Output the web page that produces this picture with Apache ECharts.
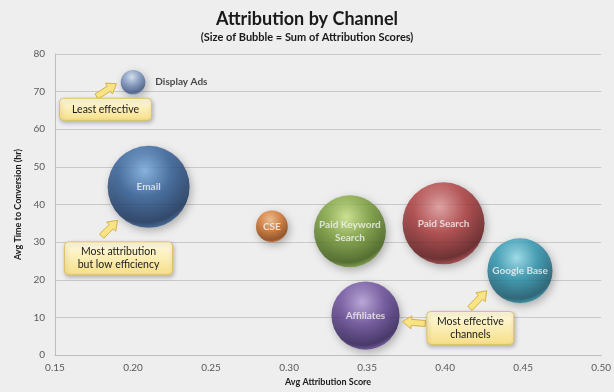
<!DOCTYPE html>
<html>
<head>
<meta charset="utf-8">
<script src="https://cdn.jsdelivr.net/npm/echarts@6/dist/echarts.min.js"></script>
<style>
  html, body { margin: 0; padding: 0; background: #eeeeee; }
  #chart { width: 614px; height: 392px; }
</style>
</head>
<body>
<div id="chart"></div>
<script>
// Channel metrics
const channels = ['Display Ads', 'Email', 'CSE', 'Paid Keyword Search', 'Paid Search', 'Google Base', 'Affiliates'];
const avgAttributionScore = [0.20, 0.21, 0.289, 0.339, 0.399, 0.448, 0.349];
const avgHoursToConversion = [72.5, 44.7, 34.2, 32.9, 35.0, 22.4, 10.5];
const attributionScoreSum = [9, 100, 15, 77, 100, 63, 69];

// Axis ticks
const xTicks = { min: 0.15, max: 0.50, interval: 0.05 };
const yTicks = { min: 0, max: 80, interval: 10 };

// Sphere shading per channel: [highlight, base, shadow]
const sphereColors = [
  ['#dbe6f7', '#7e98c4', '#3e5684'],
  ['#7fb3ea', '#31609a', '#14305a'],
  ['#f7c089', '#d7762c', '#8a400c'],
  ['#d3ee8a', '#7ca23a', '#3f5f14'],
  ['#eaa0a0', '#b03b3d', '#5e1416'],
  ['#9be6f5', '#2b97b2', '#11566a'],
  ['#bda6e0', '#6b4c9d', '#2f1c58']
];

const chart = echarts.init(document.getElementById('chart'));

function sphere(c) {
  return {
    type: 'radial', x: 0.45, y: 0.3, r: 0.72,
    colorStops: [
      { offset: 0, color: c[0] },
      { offset: 0.45, color: c[1] },
      { offset: 0.88, color: c[2] },
      { offset: 1, color: c[1] }
    ]
  };
}

const bubbleData = channels.map((name, i) => ({
  name: name,
  value: [avgAttributionScore[i], avgHoursToConversion[i], attributionScoreSum[i]],
  itemStyle: {
    color: sphere(sphereColors[i]),
    shadowBlur: 8,
    shadowColor: 'rgba(0,0,0,0.35)',
    shadowOffsetX: 2,
    shadowOffsetY: 3
  },
  label: name === 'Display Ads'
    ? { position: 'right', distance: 10, color: '#1a1a1a', fontSize: 10, fontWeight: 'bold' }
    : {}
}));

chart.setOption({
  backgroundColor: '#eeeeee',
  textStyle: { fontFamily: 'Lato, "Open Sans", sans-serif' },
  title: [
    { text: 'Attribution by Channel', left: 'center', top: 5,
      textStyle: { fontSize: 18, fontWeight: 'bold', color: '#1a1a1a', fontFamily: 'Lato, sans-serif' } },
    { text: '(Size of Bubble = Sum of Attribution Scores)', left: 'center', top: 27,
      textStyle: { fontSize: 11, fontWeight: 'bold', color: '#1a1a1a', fontFamily: 'Lato, sans-serif' } }
  ],
  grid: { left: 55, right: 9, top: 54, bottom: 34 },
  xAxis: {
    type: 'value', min: xTicks.min, max: xTicks.max, interval: xTicks.interval,
    name: 'Avg Attribution Score', nameLocation: 'middle', nameGap: 20,
    nameTextStyle: { fontSize: 9, fontWeight: 'bold', color: '#1a1a1a' },
    axisLine: { show: true, lineStyle: { color: '#bdbdbd' } },
    axisTick: { show: false },
    splitLine: { show: false },
    axisLabel: { fontSize: 10, color: '#595959', margin: 8, formatter: v => v.toFixed(2) }
  },
  yAxis: {
    type: 'value', min: yTicks.min, max: yTicks.max, interval: yTicks.interval,
    name: 'Avg Time to Conversion (hr)', nameLocation: 'middle', nameGap: 30,
    nameTextStyle: { fontSize: 9, fontWeight: 'bold', color: '#1a1a1a' },
    axisLine: { show: true, lineStyle: { color: '#bdbdbd' } },
    axisTick: { show: false },
    splitLine: { lineStyle: { color: '#c9c9c9' } },
    axisLabel: { fontSize: 10, color: '#595959', margin: 10 }
  },
  series: [{
    type: 'scatter',
    data: bubbleData,
    symbolSize: v => 82 * Math.sqrt(v[2] / 100),
    label: {
      show: true, position: 'inside',
      color: '#f2f2f2', fontSize: 10, fontWeight: 'bold', lineHeight: 13,
      formatter: p => p.name.replace('Keyword ', 'Keyword\n')
    },
    emphasis: { disabled: true }
  }]
});

// Callout notes, anchored in data space
const callouts = [
  { lines: ['Least effective'], center: [0.1824, 65.3], w: 92, h: 22,
    arrows: [[[0.1767, 68.7], [0.1894, 72.1]]] },
  { lines: ['Most attribution', 'but low efficiency'], center: [0.1907, 25.7], w: 108, h: 33,
    arrows: [[[0.1799, 31.6], [0.1901, 35.8]]] },
  { lines: ['Most effective', 'channels'], center: [0.4162, 7.2], w: 87, h: 33,
    arrows: [[[0.3873, 8.4], [0.3727, 8.9]], [[0.4159, 12.4], [0.4267, 17.1]]] }
];

function blockArrow(tail, head) {
  const dx = head[0] - tail[0], dy = head[1] - tail[1];
  const len = Math.sqrt(dx * dx + dy * dy);
  const ux = dx / len, uy = dy / len, nx = -uy, ny = ux;
  const shaft = 3, headW = 6.5, headL = 9;
  const bx = head[0] - ux * headL, by = head[1] - uy * headL;
  return [
    [tail[0] + nx * shaft, tail[1] + ny * shaft],
    [bx + nx * shaft, by + ny * shaft],
    [bx + nx * headW, by + ny * headW],
    [head[0], head[1]],
    [bx - nx * headW, by - ny * headW],
    [bx - nx * shaft, by - ny * shaft],
    [tail[0] - nx * shaft, tail[1] - ny * shaft]
  ];
}

const noteFill = {
  type: 'linear', x: 0, y: 0, x2: 0, y2: 1,
  colorStops: [{ offset: 0, color: '#fffbe2' }, { offset: 1, color: '#f7df86' }]
};

const graphics = [];
callouts.forEach(c => {
  c.arrows.forEach(a => {
    const t = chart.convertToPixel('grid', a[0]);
    const h = chart.convertToPixel('grid', a[1]);
    graphics.push({
      type: 'polygon', z: 10,
      shape: { points: blockArrow(t, h) },
      style: { fill: '#f8e385', stroke: '#d2b04c', lineWidth: 1 }
    });
  });
  const p = chart.convertToPixel('grid', c.center);
  graphics.push({
    type: 'rect', z: 11,
    shape: { x: p[0] - c.w / 2, y: p[1] - c.h / 2, width: c.w, height: c.h, r: 4 },
    style: { fill: noteFill, stroke: '#dfc268', lineWidth: 1,
      shadowBlur: 4, shadowColor: 'rgba(0,0,0,0.25)', shadowOffsetX: 1, shadowOffsetY: 2 }
  });
  graphics.push({
    type: 'text', z: 12, x: p[0], y: p[1],
    style: {
      text: c.lines.join('\n'), align: 'center', verticalAlign: 'middle',
      fontSize: 10.5, lineHeight: 13, fill: '#1a1a1a',
      fontFamily: 'Lato, "Open Sans", sans-serif'
    }
  });
});
chart.setOption({ graphic: graphics });
</script>
</body>
</html>
